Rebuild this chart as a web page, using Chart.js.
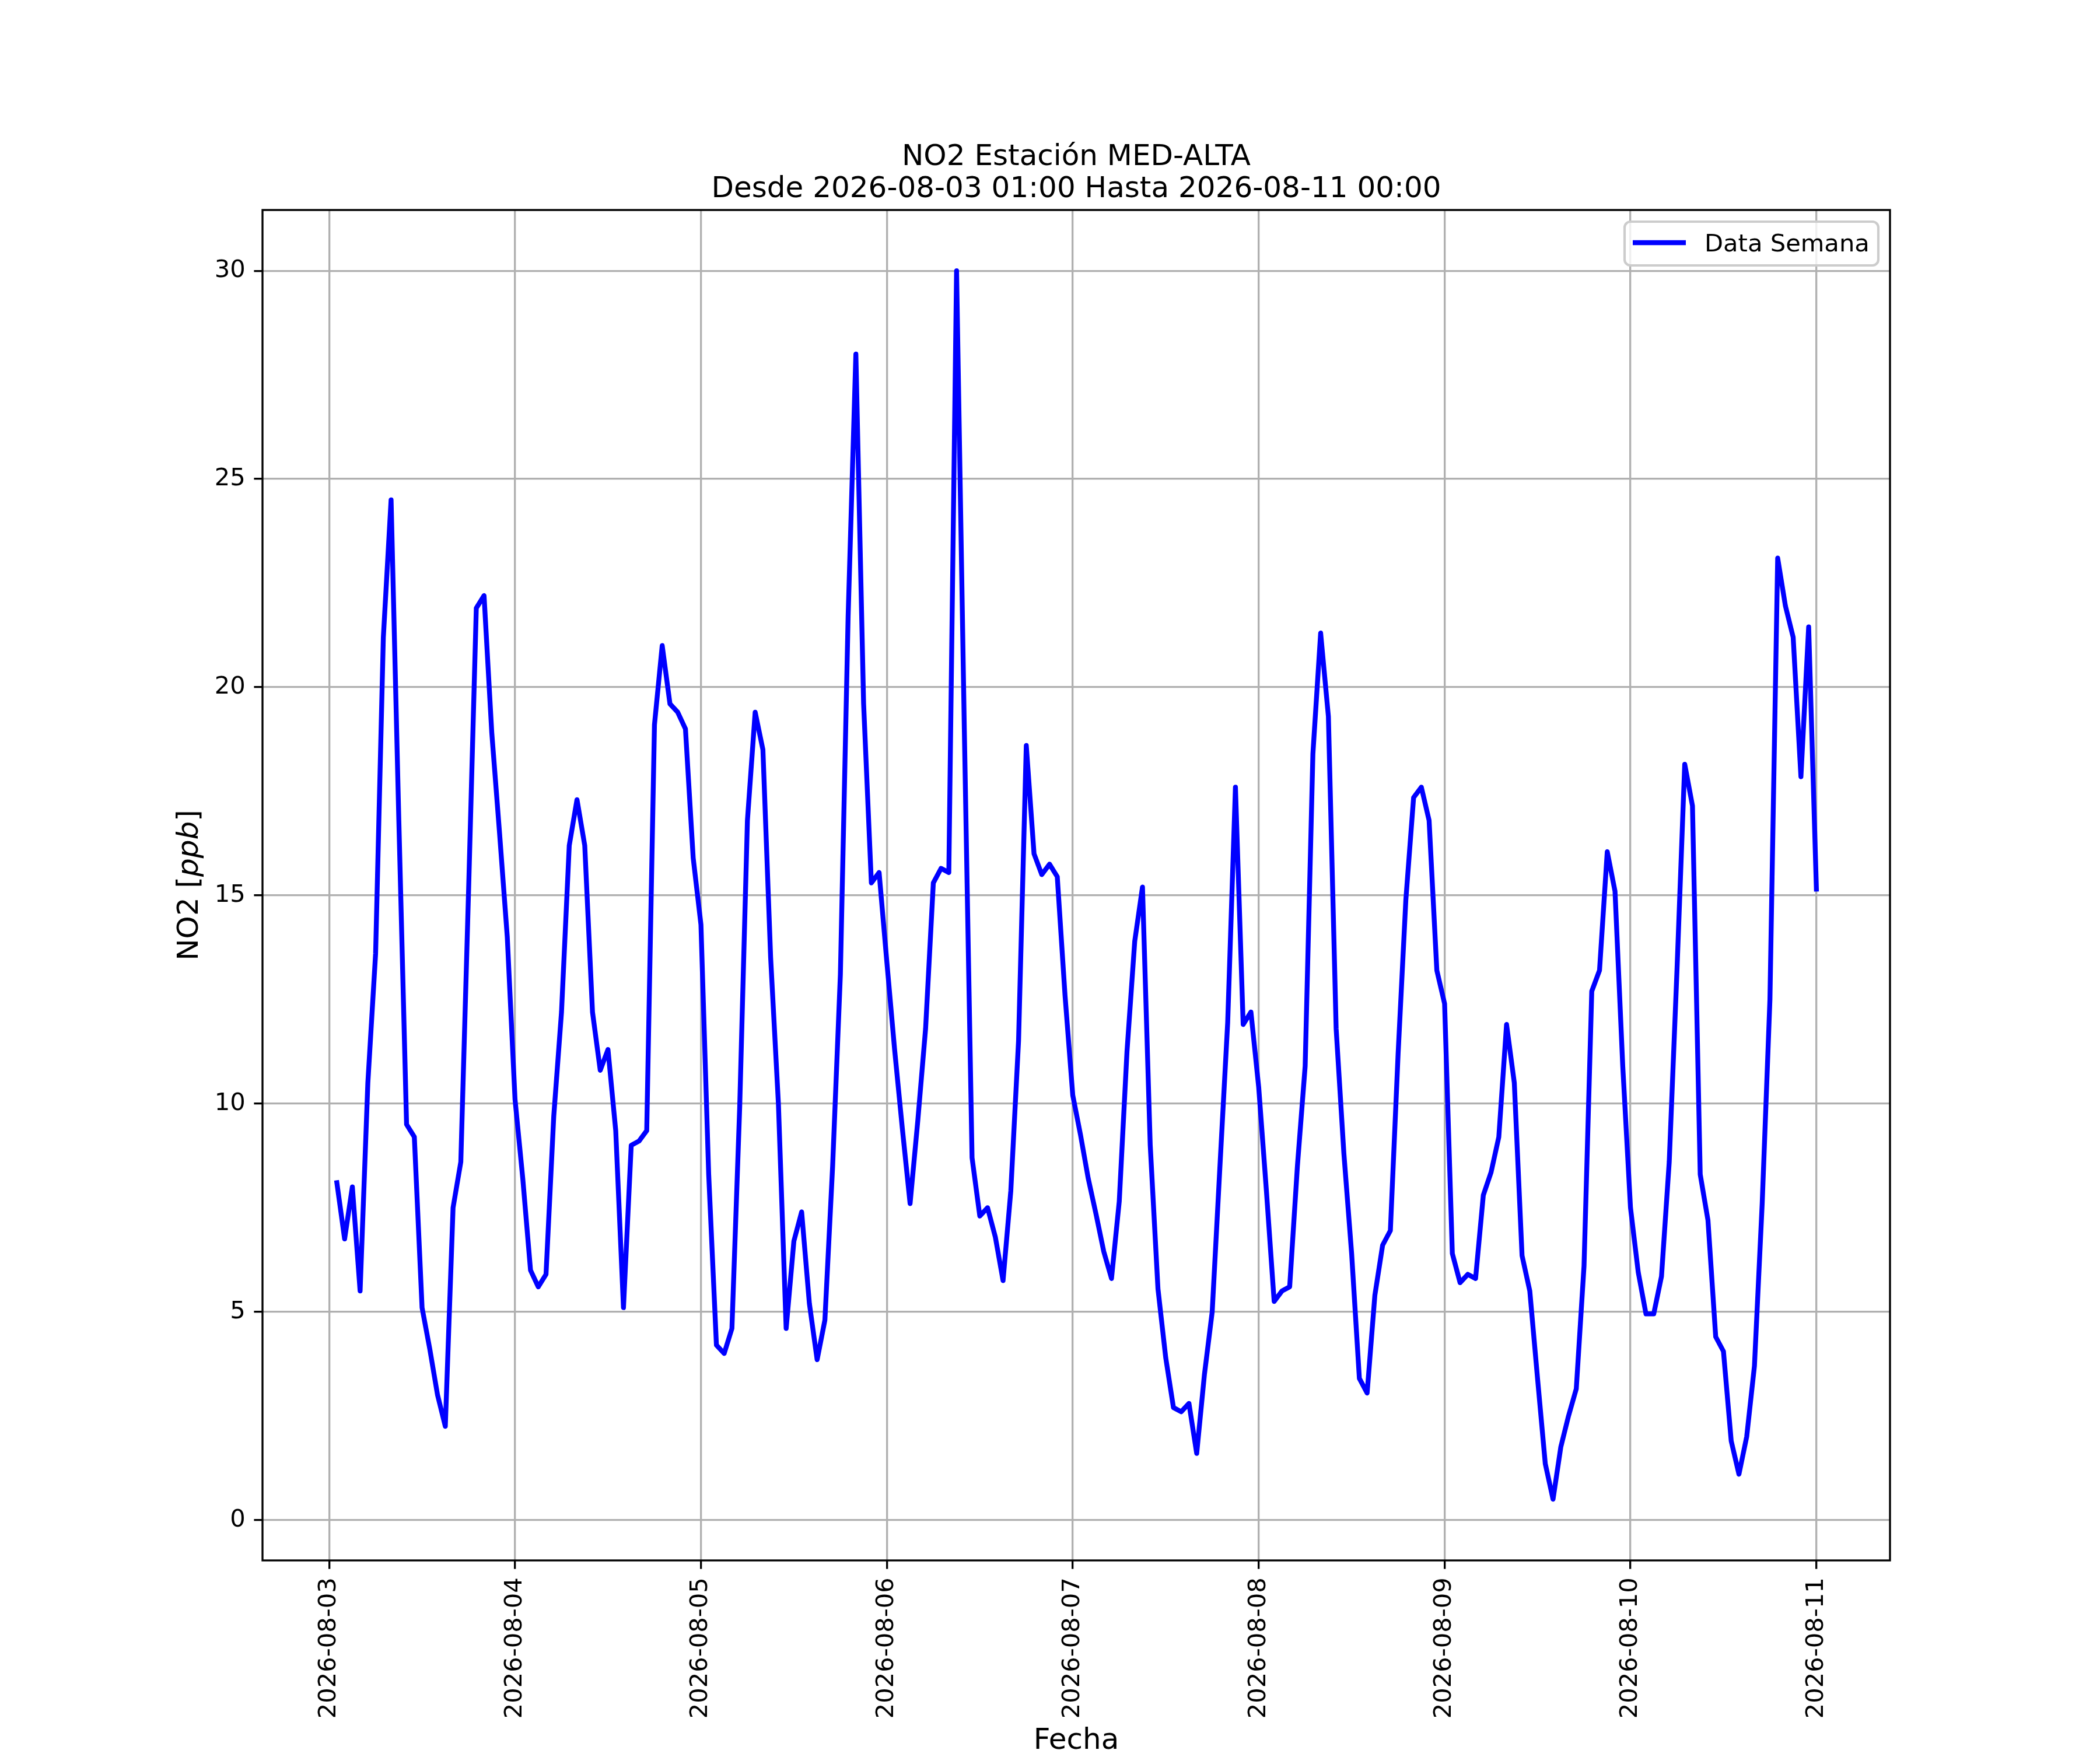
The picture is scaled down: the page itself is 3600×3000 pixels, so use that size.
<!DOCTYPE html>
<html>
<head>
<meta charset="utf-8">
<script src="https://cdn.jsdelivr.net/npm/chart.js@4.4.1/dist/chart.umd.min.js"></script>
<style>
html,body{margin:0;padding:0;background:#ffffff;}
canvas{display:block;}
</style>
</head>
<body>
<canvas id="c" width="3600" height="3000" style="width:3600px;height:3000px"></canvas>
<script>
// ---- data (hourly NO2 values, ppb) ----
const dayLabels = ['2026-08-03','2026-08-04','2026-08-05','2026-08-06','2026-08-07','2026-08-08','2026-08-09','2026-08-10','2026-08-11'];
const aug03 = [8.1, 6.75, 8.0, 5.5, 10.5, 13.6, 21.2, 24.5, 16.8, 9.5, 9.2, 5.1, 4.1, 3.0, 2.25, 7.5, 8.6, 15.1, 21.9, 22.2, 18.9, 16.5, 14.0, 10.1];
const aug04 = [8.2, 6.0, 5.6, 5.9, 9.7, 12.2, 16.2, 17.3, 16.2, 12.2, 10.8, 11.3, 9.35, 5.1, 9.0, 9.1, 9.35, 19.1, 21.0, 19.6, 19.4, 19.0, 15.9, 14.3];
const aug05 = [8.3, 4.2, 4.0, 4.6, 9.9, 16.8, 19.4, 18.5, 13.5, 10.0, 4.6, 6.7, 7.4, 5.2, 3.85, 4.8, 8.5, 13.1, 21.7, 28.0, 19.6, 15.3, 15.55, 13.4];
const aug06 = [11.3, 9.4, 7.6, 9.6, 11.8, 15.3, 15.65, 15.55, 30.0, 19.0, 8.7, 7.3, 7.5, 6.8, 5.75, 7.9, 11.5, 18.6, 16.0, 15.5, 15.75, 15.45, 12.6, 10.2];
const aug07 = [9.25, 8.2, 7.35, 6.45, 5.8, 7.65, 11.25, 13.9, 15.2, 9.0, 5.55, 3.9, 2.7, 2.6, 2.8, 1.6, 3.5, 5.0, 8.5, 11.95, 17.6, 11.9, 12.2, 10.4];
const aug08 = [7.9, 5.25, 5.5, 5.6, 8.5, 10.9, 18.4, 21.3, 19.3, 11.8, 8.8, 6.4, 3.4, 3.05, 5.4, 6.6, 6.95, 11.2, 14.9, 17.35, 17.6, 16.8, 13.2, 12.4];
const aug09 = [6.4, 5.7, 5.9, 5.8, 7.8, 8.35, 9.2, 11.9, 10.5, 6.35, 5.5, 3.4, 1.35, 0.5, 1.75, 2.5, 3.15, 6.1, 12.7, 13.2, 16.05, 15.1, 10.9, 7.5];
const aug10 = [5.95, 4.95, 4.95, 5.85, 8.6, 13.2, 18.15, 17.15, 8.3, 7.2, 4.4, 4.05, 1.9, 1.1, 2.0, 3.7, 7.6, 12.5, 23.1, 21.95, 21.2, 17.85, 21.45, 15.15];
const yTicks = [0, 5, 10, 15, 20, 25, 30];
const seriesName = 'Data Semana';
const titleLines = ['NO2 Estación MED-ALTA', 'Desde 2026-08-03 01:00 Hasta 2026-08-11 00:00'];
const xLabel = 'Fecha';
const yLabelParts = ['NO2 [', 'ppb', ']'];

// ---- build library structures ----
const values = [].concat(aug03, aug04, aug05, aug06, aug07, aug08, aug09, aug10);
// x = hours elapsed since 2026-08-03 00:00 (first sample is 01:00)
const points = values.map((v, i) => ({ x: i + 1, y: v }));
const dayTicks = dayLabels.map((d, i) => i * 24);

const FONT = 'DejaVu Sans';
const PT = 300 / 72;

const decor = {
  id: 'decor',
  afterDatasetsDraw(chart) {
    const { ctx, chartArea: a } = chart;
    ctx.save();
    // frame (spines)
    ctx.strokeStyle = '#000000';
    ctx.lineWidth = 0.8 * PT;
    ctx.strokeRect(a.left, a.top, a.right - a.left, a.bottom - a.top);

    // legend
    const w = 435, h = 75;
    const x = a.right - 20 - w, y = a.top + 20;
    const r = 10;
    ctx.beginPath();
    ctx.moveTo(x + r, y);
    ctx.lineTo(x + w - r, y);
    ctx.arcTo(x + w, y, x + w, y + r, r);
    ctx.lineTo(x + w, y + h - r);
    ctx.arcTo(x + w, y + h, x + w - r, y + h, r);
    ctx.lineTo(x + r, y + h);
    ctx.arcTo(x, y + h, x, y + h - r, r);
    ctx.lineTo(x, y + r);
    ctx.arcTo(x, y, x + r, y, r);
    ctx.closePath();
    ctx.fillStyle = 'rgba(255,255,255,0.8)';
    ctx.fill();
    ctx.strokeStyle = '#cccccc';
    ctx.lineWidth = 1 * PT;
    ctx.stroke();

    ctx.beginPath();
    ctx.strokeStyle = '#0000ff';
    ctx.lineWidth = 2 * PT;
    ctx.lineCap = 'butt';
    ctx.moveTo(x + 14, y + 36);
    ctx.lineTo(x + 105, y + 36);
    ctx.stroke();

    ctx.fillStyle = '#000000';
    ctx.font = (10 * PT) + 'px "' + FONT + '"';
    ctx.textBaseline = 'alphabetic';
    ctx.textAlign = 'left';
    ctx.fillText(seriesName, x + 137, y + 51);

    // y axis label with italic unit
    const fonts = [
      (12 * PT) + 'px "' + FONT + '"',
      'italic ' + (12 * PT) + 'px "' + FONT + '"',
      (12 * PT) + 'px "' + FONT + '"'
    ];
    let total = 0;
    const widths = yLabelParts.map((t, i) => { ctx.font = fonts[i]; const m = ctx.measureText(t).width; total += m; return m; });
    ctx.translate(339, (a.top + a.bottom) / 2);
    ctx.rotate(-Math.PI / 2);
    let cx = -total / 2;
    yLabelParts.forEach((t, i) => {
      ctx.font = fonts[i];
      ctx.fillText(t, cx, 0);
      cx += widths[i];
    });
    ctx.restore();
  }
};

const tickFont = { family: FONT, size: 10 * PT };
const gridOpts = {
  color: '#b0b0b0',
  lineWidth: 0.8 * PT,
  drawTicks: true,
  tickColor: '#000000',
  tickLength: 3.5 * PT,
  tickWidth: 0.8 * PT
};

new Chart(document.getElementById('c'), {
  type: 'line',
  data: {
    datasets: [{
      label: seriesName,
      data: points,
      borderColor: '#0000ff',
      backgroundColor: '#0000ff',
      borderWidth: 2 * PT,
      pointRadius: 0,
      pointHoverRadius: 0,
      tension: 0,
      fill: false,
      borderJoinStyle: 'round',
      borderCapStyle: 'square'
    }]
  },
  options: {
    responsive: false,
    animation: false,
    devicePixelRatio: 1,
    layout: { padding: { left: 0, right: 360, top: 0, bottom: 0 } },
    plugins: {
      legend: { display: false },
      tooltip: { enabled: false },
      title: {
        display: true,
        fullSize: false,
        text: titleLines,
        color: '#000000',
        font: { family: FONT, size: 12 * PT, weight: 'normal', lineHeight: 1.1 },
        padding: { top: 243, bottom: 7 }
      }
    },
    scales: {
      x: {
        type: 'linear',
        min: -8.6,
        max: 201.5,
        afterBuildTicks: (s) => { s.ticks = dayTicks.map(v => ({ value: v })); },
        afterFit: (s) => { s.height = 325; },
        ticks: {
          autoSkip: false,
          maxRotation: 90,
          minRotation: 90,
          padding: 3.5 * PT,
          color: '#000000',
          font: tickFont,
          callback: (v, i) => dayLabels[i]
        },
        grid: gridOpts,
        border: { display: false },
        title: {
          display: true,
          text: xLabel,
          color: '#000000',
          font: { family: FONT, size: 12 * PT, lineHeight: 1.2 },
          padding: { top: 0, bottom: -15 }
        }
      },
      y: {
        type: 'linear',
        min: -0.97,
        max: 31.46,
        afterBuildTicks: (s) => { s.ticks = yTicks.map(v => ({ value: v })); },
        afterFit: (s) => { s.width = 450; },
        ticks: {
          padding: 3.5 * PT,
          color: '#000000',
          font: tickFont
        },
        grid: gridOpts,
        border: { display: false }
      }
    }
  },
  plugins: [decor]
});
</script>
</body>
</html>
